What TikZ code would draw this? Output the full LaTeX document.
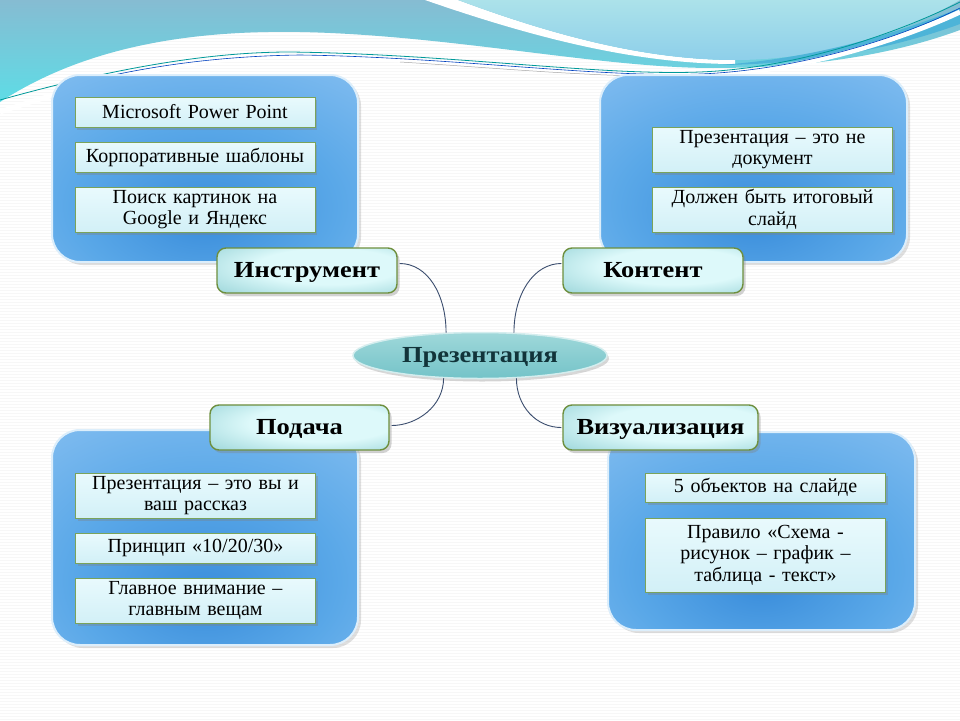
\documentclass[tikz,border=0pt]{standalone}
\usepackage{fontspec}
\setmainfont{Liberation Serif}
\newfontfamily\headfont[FakeStretch=1.15]{Liberation Serif}
\usetikzlibrary{shapes.geometric,shadows,calc}
\definecolor{tealtop}{HTML}{86BCD2}
\definecolor{tealbot}{HTML}{5EDCE6}
\definecolor{lightcy}{HTML}{ACE2EA}
\definecolor{lightcy2}{HTML}{8ECFEA}
\definecolor{streak}{HTML}{4DB4D8}
\definecolor{pdark}{HTML}{3A8DDB}
\definecolor{pmid}{HTML}{5AA8E8}
\definecolor{psoft}{HTML}{82BDF0}
\definecolor{plight}{HTML}{B4D9F8}
\definecolor{panelrim}{HTML}{DCEEFB}
\definecolor{boxtop}{HTML}{E9FAFD}
\definecolor{boxbot}{HTML}{D2F0F7}
\definecolor{boxline}{HTML}{7AA35A}
\definecolor{tlight}{HTML}{DDF9FA}
\definecolor{tdark}{HTML}{86CACF}
\definecolor{topline}{HTML}{6E8F3E}
\definecolor{elltop}{HTML}{9FD8DA}
\definecolor{ellbot}{HTML}{74C3C8}
\definecolor{ellrim}{HTML}{D4EDEE}
\definecolor{elltext}{HTML}{12343A}
\definecolor{connc}{HTML}{3B4D6E}
\pgfdeclareradialshading{panelshade}{\pgfpoint{0bp}{-14bp}}{color(0bp)=(pdark); color(22bp)=(pmid); color(42bp)=(psoft); color(58bp)=(plight); color(80bp)=(plight)}
\pgfdeclareradialshading{topicshade}{\pgfpoint{8bp}{6bp}}{color(0bp)=(tlight); color(20bp)=(tlight); color(48bp)=(tdark); color(80bp)=(tdark)}
\begin{document}
\begin{tikzpicture}[x=1pt,y=-1pt,
  panel/.style={rectangle, rounded corners=28pt, draw=panelrim, line width=2pt,
    shade, shading=panelshade,
    drop shadow={opacity=0.25, shadow xshift=3pt, shadow yshift=-3pt}},
  itembox/.style={rectangle, draw=boxline, line width=0.9pt, top color=boxtop, bottom color=boxbot,
    minimum width=240pt, text width=232pt, inner xsep=4pt, inner ysep=2pt, align=center,
    font=\fontsize{20}{21.5}\selectfont,
    drop shadow={opacity=0.35, shadow xshift=2pt, shadow yshift=-2.5pt}},
  topicbox/.style={rectangle, rounded corners=9pt, draw=topline, line width=1.4pt,
    shade, shading=topicshade, text height=15pt, text depth=2pt,
    minimum height=45pt, font=\headfont\bfseries\fontsize{23}{25}\selectfont,
    drop shadow={opacity=0.35, shadow xshift=2.5pt, shadow yshift=-3pt}},
  centre/.style={ellipse, draw=ellrim, line width=1.5pt, top color=elltop, bottom color=ellbot,
    minimum width=254pt, minimum height=46pt, text=elltext, text height=15pt, text depth=2pt,
    font=\headfont\bfseries\fontsize{23}{25}\selectfont,
    drop shadow={opacity=0.3, shadow xshift=2pt, shadow yshift=-3pt}},
  conn/.style={draw=connc, line width=0.9pt}
]
\useasboundingbox (0,0) rectangle (960,720);
\fill[white] (0,0) rectangle (960,720);
\foreach \yy in {2,5,...,719} \draw[black!3, line width=0.6pt] (0,\yy) -- (960,\yy);

% top decoration
\shade[top color=tealtop, bottom color=tealbot]
  (0,0) -- (960,0) -- (960,30) .. controls (900,52) and (820,68) .. (713,68)
  .. controls (600,68) and (450,35) .. (300,32)
  .. controls (180,30) and (80,50) .. (0,102) -- cycle;
\fill[white] (425,0) .. controls (540,40) and (640,64) .. (735,64)
  -- (735,60) .. controls (650,60) and (560,38) .. (458,0) -- cycle;
\shade[top color=lightcy, bottom color=lightcy2]
  (458,0) .. controls (560,38) and (650,60) .. (735,60)
  .. controls (820,60) and (900,35) .. (960,0) -- cycle;
\fill[streak] (720,65) .. controls (820,58) and (900,32) .. (960,8)
  -- (960,24) .. controls (900,46) and (820,64) .. (720,65) -- cycle;
\draw[white, line width=5pt] (0,112) .. controls (100,78) and (200,56) .. (290,56)
  .. controls (450,58) and (600,80) .. (700,76) .. controls (800,72) and (900,40) .. (960,12);
\draw[teal!80!cyan, line width=0.8pt] (0,100) .. controls (100,72) and (200,52) .. (290,52)
  .. controls (450,54) and (600,76) .. (700,72) .. controls (800,68) and (900,32) .. (960,2);
\draw[blue!50!teal, line width=0.6pt] (60,88) .. controls (140,66) and (220,56) .. (300,55)
  .. controls (450,57) and (600,78) .. (700,74) .. controls (800,70) and (900,38) .. (960,8);
\draw[gray!70, line width=0.5pt] (400,62) .. controls (500,68) and (600,78) .. (690,76);

% panels
\node[panel, minimum width=306pt, minimum height=187pt] (p1) at (205,168.5) {};
\node[panel, minimum width=307pt, minimum height=187pt] (p2) at (753.5,168.5) {};
\node[panel, minimum width=306pt, minimum height=215pt] (p3) at (205,537.5) {};
\node[panel, minimum width=307pt, minimum height=198pt] (p4) at (761.5,531) {};

% item boxes
\node[itembox, minimum height=30pt] (b11) at (195,112) {Microsoft Power Point};
\node[itembox, minimum height=30pt] (b12) at (195,157) {Корпоративные шаблоны};
\node[itembox, minimum height=45pt] (b13) at (195,209.5) {Поиск картинок на\\Google и Яндекс};

\node[itembox, minimum height=45pt] (b21) at (772.5,149.5) {Презентация – это не\\документ};
\node[itembox, minimum height=45pt] (b22) at (772.5,209.5) {Должен быть итоговый\\слайд};

\node[itembox, minimum height=45pt] (b31) at (195.5,495.5) {Презентация – это вы и\\ваш рассказ};
\node[itembox, minimum height=30pt] (b32) at (195.5,548) {Принцип «10/20/30»};
\node[itembox, minimum height=45pt] (b33) at (195.5,600.5) {Главное внимание –\\главным вещам};

\node[itembox, minimum height=29pt] (b41) at (765.5,487.5) {5 объектов на слайде};
\node[itembox, minimum height=74pt] (b42) at (765.5,555) {Правило «Схема -\\рисунок – график –\\таблица - текст»};

% topic boxes
\node[topicbox, minimum width=180pt] (t1) at (307,270.5) {Инструмент};
\node[topicbox, minimum width=180pt] (t2) at (653,270.5) {Контент};
\node[topicbox, minimum width=179pt] (t3) at (299.5,427.5) {Подача};
\node[topicbox, minimum width=195pt] (t4) at (660.5,427.5) {Визуализация};

% centre
\node[centre] (c) at (480,355.5) {Презентация};

% connectors
\draw[conn] ($(t1.east)+(2,-7)$) .. controls +(28,0) and +(0,-38) .. (c.146);
\draw[conn] ($(t2.west)+(-1,-7)$) .. controls +(-28,0) and +(0,-38) .. (c.34);
\draw[conn] (c.212) .. controls +(0,28) and +(25,0) .. ($(t3.east)+(2,-2)$);
\draw[conn] (c.328) .. controls +(0,28) and +(-25,0) .. ($(t4.west)+(-1,0)$);
\end{tikzpicture}
\end{document}
